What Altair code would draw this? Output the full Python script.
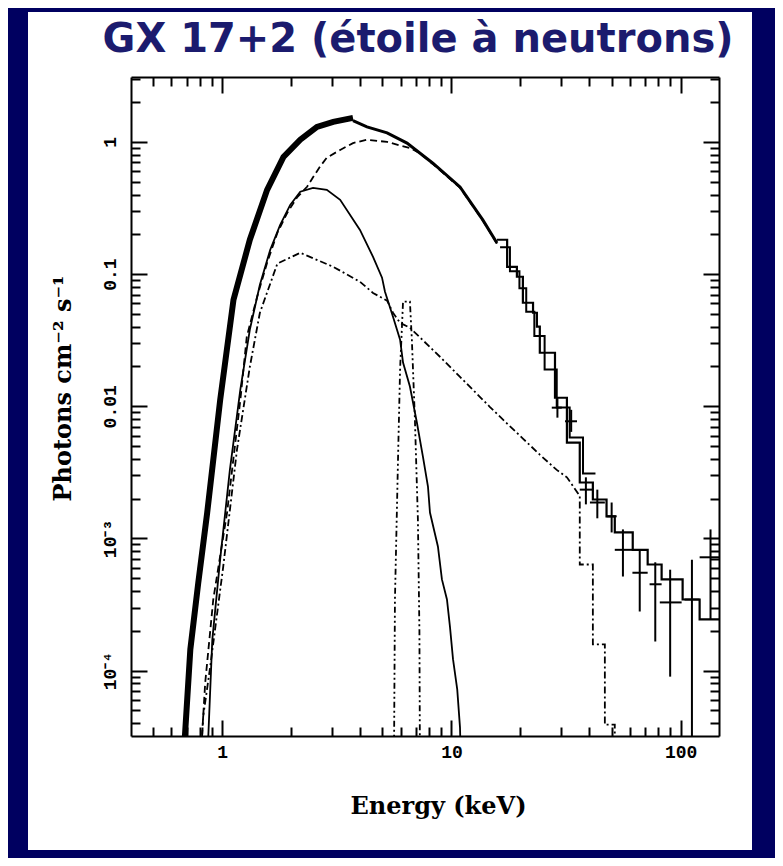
import altair as alt
import pandas as pd

# ---------------- layout constants ----------------
W, H = 588, 659
X_DOMAIN = [0.4, 147.0]
Y_DOMAIN = [3.2e-5, 3.1]

TITLE = "GX 17+2 (étoile à neutrons)"
X_TITLE = "Energy (keV)"
Y_TITLE = "Photons cm⁻² s⁻¹"

X_LABEL_VALUES = [1, 10, 100]
Y_LABEL_VALUES = [1e-4, 1e-3, 0.01, 0.1, 1]
Y_LABEL_TEXT = ["10⁻⁴", "10⁻³", "0.01", "0.1", "1"]
X_TICKS = [0.5, 0.6, 0.7, 0.8, 0.9, 1, 2, 3, 4, 5, 6, 7, 8, 9,
           10, 20, 30, 40, 50, 60, 70, 80, 90, 100]
Y_TICKS = [m * 10.0 ** e for e in range(-5, 1) for m in range(1, 10)
           if Y_DOMAIN[0] <= m * 10.0 ** e <= Y_DOMAIN[1]]

# ---------------- data ----------------
# dense low-energy data (drawn as a thick band)
band_E = [0.676, 0.726, 0.786, 0.86, 0.98, 1.12, 1.32, 1.57, 1.85, 2.19, 2.59, 3.05, 3.72]
band_F = [2.0e-5, 1.45e-4, 4.6e-4, 1.57e-3, 0.0112, 0.064, 0.182, 0.434, 0.77, 1.04, 1.30, 1.42, 1.52]

# total model / data continuation (smooth part)
total_E = [3.72, 4.28, 5.24, 6.40, 8.30, 10.9, 13.7, 15.8]
total_F = [1.45, 1.30, 1.17, 0.98, 0.69, 0.457, 0.257, 0.172]

# histogram 1 (high energy) : bin edges and values
stepA_edges = [15.8, 17.5, 19.3, 20.5, 22.7, 23.6, 24.3, 28.3, 31.9, 36.3, 41.4,
               47.5, 51.6, 61.8, 71.8, 82.6, 102, 121, 148]
stepA_vals = [0.182, 0.1135, 0.0955, 0.0607, 0.051, 0.040, 0.0254, 0.0116, 0.0053,
              0.00265, 0.00197, 0.00147, 0.00111, 8.2e-4, 6.35e-4, 4.9e-4, 3.45e-4, 2.44e-4]

# histogram 2 (second instrument)
stepB_edges = [16.3, 18.0, 19.8, 21.2, 23.0, 25.5, 28.8, 32.8, 37.5, 42.5]
stepB_vals = [0.16, 0.105, 0.078, 0.052, 0.034, 0.019, 0.0098, 0.0058, 0.0031]

# data points with error bars
cross_E = [29.0, 33.3, 38.6, 43.3, 50.0, 56.0, 66.3, 77.5, 90.0, 112, 135]
cross_Elo = [27.4, 31.3, 36.3, 40.2, 47.5, 51.6, 61.6, 73.2, 81.1, 104, 121]
cross_Ehi = [30.3, 35.3, 41.4, 46.7, 52.6, 61.8, 71.8, 82.6, 101, 121, 150]
cross_F = [0.00976, 0.0077, 0.00234, 0.00187, 0.00147, 8.2e-4, 5.5e-4, 4.5e-4, 3.28e-4, 3.45e-4, 7.2e-4]
cross_Flo = [0.0082, 0.0064, 0.00181, 0.00142, 0.00111, 5.15e-4, 2.8e-4, 1.66e-4, 9.0e-5, 1e-6, 2.44e-4]
cross_Fhi = [0.0116, 0.0094, 0.0029, 0.00234, 0.00187, 1.17e-3, 8.2e-4, 6.6e-4, 5.8e-4, 6.9e-4, 1.17e-3]

# comptonisation component (dashed)
comp_E = [0.80, 0.818, 0.843, 0.914, 1.05, 1.20, 1.28, 1.42, 1.57, 1.74, 1.92, 2.12, 2.35,
          2.49, 2.67, 2.86, 3.27, 3.72, 4.28, 5.24, 5.97, 6.59, 7.29, 8.30, 10.9, 13.7, 15.8]
comp_F = [1e-5, 3.4e-5, 8.1e-5, 3.45e-4, 1.57e-3, 0.0112, 0.0336, 0.0673, 0.122, 0.205, 0.29,
          0.38, 0.46, 0.54, 0.65, 0.76, 0.87, 0.98, 1.04, 1.0, 0.94, 0.90, 0.82, 0.68, 0.45,
          0.255, 0.17]

# blackbody component (solid thin)
bb_E = [0.86, 0.905, 0.98, 1.08, 1.20, 1.32, 1.46, 1.62, 1.79, 1.98, 2.19, 2.49, 2.86, 3.27,
        3.99, 4.55, 4.98, 5.13, 5.56, 5.97, 6.15, 6.59, 7.07, 7.51, 7.90, 8.06, 8.73, 9.09,
        9.56, 9.85, 10.16, 10.6, 10.9, 11.1]
bb_F = [2e-5, 1.7e-4, 7e-4, 3.3e-3, 0.0134, 0.038, 0.083, 0.153, 0.236, 0.334, 0.42, 0.449,
        0.434, 0.365, 0.216, 0.135, 0.094, 0.0735, 0.0475, 0.0319, 0.0214, 0.0141, 0.0075,
        0.00416, 0.00247, 1.57e-3, 8.7e-4, 4.9e-4, 3.45e-4, 2.16e-4, 1.22e-4, 7.2e-5, 3.7e-5, 1e-5]

# power-law-like component (dash-dot)
pl_E = [0.80, 0.826, 0.887, 1.01, 1.16, 1.32, 1.46, 1.74, 2.19, 3.05, 3.99, 4.55, 5.24, 5.56,
        5.97, 6.59, 8.91, 10.9, 13.3, 14.7, 17.5, 20.5, 24.3, 28.8, 31.9, 36.3, 36.3, 41.4,
        41.4, 46.7, 46.7, 51.6, 51.6]
pl_F = [1.5e-5, 4.5e-5, 1.08e-4, 6.1e-4, 0.0047, 0.0199, 0.051, 0.12, 0.145, 0.1135, 0.0875,
        0.072, 0.063, 0.051, 0.0428, 0.0393, 0.0237, 0.0167, 0.0118, 0.0099, 0.0074, 0.0057,
        0.0043, 0.0033, 0.0029, 0.0021, 6.35e-4, 6.35e-4, 1.58e-4, 1.58e-4, 3.9e-5, 3.9e-5, 1e-6]

# iron line (dash-dot-dot)
line_E = [5.60, 5.67, 5.86, 5.97, 6.15, 6.59, 6.72, 6.93, 7.14, 7.25, 7.30]
line_F = [1e-5, 3.45e-4, 0.0047, 0.019, 0.062, 0.062, 0.032, 0.0079, 1.4e-3, 2e-4, 1e-5]

# ---------------- helpers ----------------
def frame(E, F):
    return pd.DataFrame({"E": E, "F": F, "o": list(range(len(E)))})


def steps(edges, vals):
    E, F = [], []
    for i, v in enumerate(vals):
        E += [edges[i], edges[i + 1]]
        F += [v, v]
    return frame(E, F)


xs = alt.Scale(type="log", domain=X_DOMAIN, nice=False)
ys = alt.Scale(type="log", domain=Y_DOMAIN, nice=False)
X = alt.X("E:Q", scale=xs, axis=None)
Y = alt.Y("F:Q", scale=ys, axis=None)

SERIF = "DejaVu Serif"
MONO = "Liberation Mono"
MAJOR = "abs(log(datum.value)/LN10 - round(log(datum.value)/LN10)) < 0.001"
TSIZE = {"condition": {"test": MAJOR, "value": 16}, "value": 9}

tick_common = dict(labels=False, title=None, grid=False, domain=True, domainColor="black",
                   domainWidth=2, ticks=True, tickColor="black", tickWidth=2,
                   tickSize=TSIZE, zindex=2)

ylab_expr = "datum.value < 3e-4 ? '%s' : datum.value < 3e-3 ? '%s' : datum.value < 0.03 ? '%s' : datum.value < 0.3 ? '%s' : '%s'" % tuple(Y_LABEL_TEXT)

x_label_axis = alt.Axis(orient="bottom", values=X_LABEL_VALUES, format="d", ticks=False,
                        tickSize=0, domain=False, grid=False, labelFont=MONO,
                        labelFontSize=18, labelFontWeight="bold", labelColor="black",
                        labelPadding=7,
                        title=X_TITLE, titleFont=SERIF, titleFontSize=24,
                        titleFontWeight="bold", titleColor="black", titleX=307, titleY=70,
                        titleAlign="center", titleBaseline="middle", zindex=2)
y_label_axis = alt.Axis(orient="left", values=Y_LABEL_VALUES, labelExpr=ylab_expr,
                        ticks=False, tickSize=0, domain=False, grid=False, labelFont=MONO,
                        labelFontSize=18, labelFontWeight="bold", labelColor="black",
                        labelPadding=12,
                        labelAngle=270, labelAlign="center", labelBaseline="bottom",
                        title=Y_TITLE, titleFont=SERIF, titleFontSize=24,
                        titleFontWeight="bold", titleColor="black", titleAngle=270,
                        titleX=-68, titleY=311, titleAlign="center",
                        titleBaseline="middle", zindex=2)

# ---------------- layers ----------------
panel = alt.Chart(alt.Data(values=[{}])).mark_rect(color="white").encode(
    x=alt.value(-103), x2=alt.value(W + 33), y=alt.value(-65), y2=alt.value(H + 114))

title_main = alt.Chart(alt.Data(values=[{}])).mark_text(
    text=TITLE, font="DejaVu Sans", fontSize=40, fontWeight="bold", color="#1b1b6e",
    align="center", baseline="alphabetic").encode(x=alt.value(287), y=alt.value(-25))


def line(df, width=1.8, dash=None):
    kw = dict(color="black", strokeWidth=width, clip=True)
    if dash:
        kw["strokeDash"] = dash
    return alt.Chart(df).mark_line(**kw).encode(x=X, y=Y, order="o:Q")


bb_layer = line(frame(bb_E, bb_F), 1.8)
comp_layer = line(frame(comp_E, comp_F), 1.8, [7, 4])
pl_layer = line(frame(pl_E, pl_F), 1.8, [7, 3, 2, 3])
fe_layer = line(frame(line_E, line_F), 1.8, [6, 3, 2, 3, 2, 3])
stepB_layer = line(steps(stepB_edges, stepB_vals), 2)
stepA_layer = line(steps(stepA_edges, stepA_vals), 2.2)
total_layer = line(frame(total_E, total_F), 3)

band_layer = alt.Chart(frame(band_E, band_F)).mark_line(
    color="black", strokeWidth=6, clip=True).encode(
    x=alt.X("E:Q", scale=xs, axis=x_label_axis),
    y=alt.Y("F:Q", scale=ys, axis=y_label_axis), order="o:Q")

cross_df = pd.DataFrame({"E": cross_E, "Elo": cross_Elo, "Ehi": cross_Ehi,
                         "F": cross_F, "Flo": cross_Flo, "Fhi": cross_Fhi})
cross_v = alt.Chart(cross_df).mark_rule(color="black", strokeWidth=2, clip=True).encode(
    x=X, y=alt.Y("Flo:Q", scale=ys, axis=None), y2="Fhi:Q")
cross_h = alt.Chart(cross_df).mark_rule(color="black", strokeWidth=2, clip=True).encode(
    x=alt.X("Elo:Q", scale=xs, axis=None), x2="Ehi:Q", y=Y)

# invisible carriers of the inward tick axes / frame
xt_df = pd.DataFrame({"v": X_TICKS})
yt_df = pd.DataFrame({"v": Y_TICKS})
x_bottom_ticks = alt.Chart(xt_df).mark_point(opacity=0).encode(
    x=alt.X("v:Q", scale=xs, axis=alt.Axis(orient="top", offset=-H, values=X_TICKS, **tick_common)))
x_top_ticks = alt.Chart(xt_df).mark_point(opacity=0).encode(
    x=alt.X("v:Q", scale=xs, axis=alt.Axis(orient="bottom", offset=-H, values=X_TICKS, **tick_common)))
y_left_ticks = alt.Chart(yt_df).mark_point(opacity=0).encode(
    y=alt.Y("v:Q", scale=ys, axis=alt.Axis(orient="right", offset=-W, values=Y_TICKS, **tick_common)))
y_right_ticks = alt.Chart(yt_df).mark_point(opacity=0).encode(
    y=alt.Y("v:Q", scale=ys, axis=alt.Axis(orient="left", offset=-W, values=Y_TICKS, **tick_common)))

chart = alt.layer(
    panel, title_main,
    bb_layer, comp_layer, pl_layer, fe_layer,
    stepB_layer, stepA_layer, total_layer, band_layer, cross_v, cross_h,
    x_bottom_ticks, x_top_ticks, y_left_ticks, y_right_ticks,
).resolve_axis(x="independent", y="independent").properties(
    width=W, height=H,
    autosize=alt.AutoSizeParams(type="none"),
    padding={"left": 123, "top": 69, "right": 56, "bottom": 122},
).configure(background="#000060").configure_view(stroke=None)

chart.save("out.html", embed_options={"renderer": "svg", "actions": False})
